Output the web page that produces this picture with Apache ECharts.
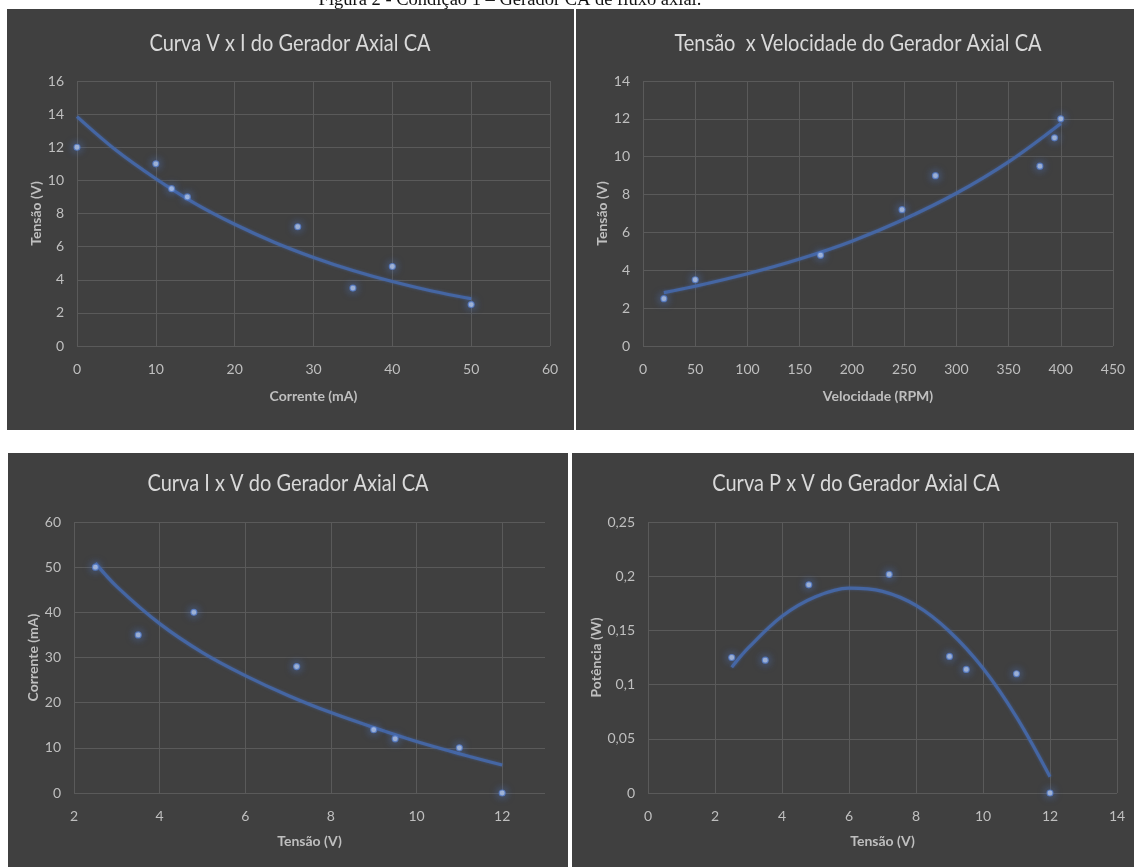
<!DOCTYPE html>
<html>
<head>
<meta charset="utf-8">
<script src="https://cdn.jsdelivr.net/npm/echarts@6/dist/echarts.min.js"></script>
<style>
  html, body { margin: 0; padding: 0; background: #ffffff; }
  #wrap { position: relative; width: 1134px; height: 867px; overflow: hidden; }
  .panel { position: absolute; background: #404040; }
  #chart { position: absolute; left: 0; top: 0; width: 1134px; height: 867px; }
</style>
</head>
<body>
<div id="wrap">
  <div class="panel" style="left:7px;top:9px;width:567px;height:421px"></div>
  <div class="panel" style="left:576px;top:9px;width:558px;height:421px"></div>
  <div class="panel" style="left:8px;top:453px;width:560px;height:414px"></div>
  <div class="panel" style="left:572px;top:453px;width:562px;height:414px"></div>
  <div id="chart"></div>
</div>
<script>
// ---- Measured data ----
// Curva V x I: corrente (mA) -> tensão (V)
const correnteVI = [0, 10, 12, 14, 28, 35, 40, 50];
const tensaoVI   = [12, 11, 9.5, 9, 7.2, 3.5, 4.8, 2.5];
// Tensão x Velocidade: velocidade (RPM) -> tensão (V)
const velocidade = [20, 50, 170, 248, 280, 380, 394, 400];
const tensaoVel  = [2.5, 3.5, 4.8, 7.2, 9, 9.5, 11, 12];
// Curva I x V: tensão (V) -> corrente (mA)
const tensaoIV   = [2.5, 3.5, 4.8, 7.2, 9, 9.5, 11, 12];
const correnteIV = [50, 35, 40, 28, 14, 12, 10, 0];
// Curva P x V: tensão (V) -> potência (W)
const tensaoPV   = [2.5, 3.5, 4.8, 7.2, 9, 9.5, 11, 12];
const potencia   = [0.125, 0.1225, 0.192, 0.2016, 0.126, 0.114, 0.11, 0];

// ---- Trend lines (points along each fitted curve) ----
const trendVI_x  = [0, 5, 10, 15, 20, 25, 30, 35, 40, 45, 50];
const trendVI_y  = [13.85, 11.8, 10.1, 8.6, 7.35, 6.27, 5.35, 4.56, 3.89, 3.32, 2.85];
const trendVel_x = [20, 50, 100, 150, 200, 250, 300, 350, 400];
const trendVel_y = [2.82, 3.16, 3.82, 4.6, 5.54, 6.7, 8.07, 9.73, 11.76];
const trendIV_x  = [2.5, 3, 4, 5, 6, 7, 8, 9, 10, 11, 12];
const trendIV_y  = [50.9, 45.7, 37.5, 31.1, 26.0, 21.6, 17.8, 14.5, 11.4, 8.7, 6.2];
const trendPV_x  = [2.5, 3, 4, 5, 6, 7, 8, 9, 10, 11, 12];
const trendPV_y  = [0.116, 0.134, 0.163, 0.181, 0.189, 0.186, 0.173, 0.149, 0.115, 0.070, 0.015];

// ---- Texts ----
const caption = 'Figura 2 - Condição 1 – Gerador CA de fluxo axial.';
const titles = [
  'Curva V x I do Gerador Axial CA',
  'Tensão  x Velocidade do Gerador Axial CA',
  'Curva I x V do Gerador Axial CA',
  'Curva P x V do Gerador Axial CA'
];
const xNames = ['Corrente (mA)', 'Velocidade (RPM)', 'Tensão (V)', 'Tensão (V)'];
const yNames = ['Tensão (V)', 'Tensão (V)', 'Corrente (mA)', 'Potência (W)'];

// ---- Axis ranges [min, max, interval] ----
const xRanges = [[0, 60, 10], [0, 450, 50], [2, 13, 2], [0, 14, 2]];
const yRanges = [[0, 16, 2], [0, 14, 2], [0, 60, 10], [0, 0.25, 0.05]];

const zip = (xs, ys) => xs.map((x, i) => [x, ys[i]]);

const FONT = 'Lato';
const LABEL = '#bfbfbf';
const GRIDLINE = '#5a5a5a';

const grids = [
  { left: 77,  top: 81,  width: 473, height: 265 },
  { left: 643, top: 81,  width: 470, height: 265 },
  { left: 74,  top: 522, width: 471, height: 271 },
  { left: 648, top: 522, width: 469, height: 271 }
];
const xNameGap = [43, 43, 41, 41];
const yNameGap = [32, 32, 31, 41];
const titlePos = [[290, 44], [858, 44], [288, 484], [856, 484]];

function decimalComma(v) {
  return String(+v.toFixed(2)).replace('.', ',');
}

const xAxes = xRanges.map((r, i) => ({
  type: 'value', gridIndex: i, min: r[0], max: r[1], interval: r[2],
  name: xNames[i], nameLocation: 'middle', nameGap: xNameGap[i],
  nameTextStyle: { color: LABEL, fontFamily: FONT, fontSize: 14, fontWeight: 'bold' },
  axisLine: { show: false }, axisTick: { show: false },
  axisLabel: {
    color: LABEL, fontFamily: FONT, fontSize: 14, margin: 16,
    formatter: v => (i === 2 && v === 13) ? '' : String(v)
  },
  splitLine: {
    show: true,
    lineStyle: {
      width: 1,
      // the last line of the I x V panel (at 13) stays hidden
      color: i === 2 ? [GRIDLINE, GRIDLINE, GRIDLINE, GRIDLINE, GRIDLINE, GRIDLINE, 'rgba(0,0,0,0)'] : GRIDLINE
    }
  }
}));

const yAxes = yRanges.map((r, i) => ({
  type: 'value', gridIndex: i, min: r[0], max: r[1], interval: r[2],
  name: yNames[i], nameLocation: 'middle', nameGap: yNameGap[i], nameRotate: 90,
  nameTextStyle: { color: LABEL, fontFamily: FONT, fontSize: 14, fontWeight: 'bold' },
  axisLine: { show: false }, axisTick: { show: false },
  axisLabel: {
    color: LABEL, fontFamily: FONT, fontSize: 14, margin: 13,
    formatter: i === 3 ? decimalComma : (v => String(v))
  },
  splitLine: { show: true, lineStyle: { color: GRIDLINE, width: 1 } }
}));

const pointSets = [
  zip(correnteVI, tensaoVI),
  zip(velocidade, tensaoVel),
  zip(tensaoIV, correnteIV),
  zip(tensaoPV, potencia)
];
const trendSets = [
  zip(trendVI_x, trendVI_y),
  zip(trendVel_x, trendVel_y),
  zip(trendIV_x, trendIV_y),
  zip(trendPV_x, trendPV_y)
];

const series = [];
for (let i = 0; i < 4; i++) {
  series.push({
    type: 'line', xAxisIndex: i, yAxisIndex: i, data: trendSets[i],
    smooth: 0.35, showSymbol: false, silent: true, z: 2,
    lineStyle: { color: '#4566a3', width: 3.2, shadowBlur: 3, shadowColor: 'rgba(72,104,166,0.6)' }
  });
  series.push({
    type: 'scatter', xAxisIndex: i, yAxisIndex: i, data: pointSets[i],
    symbol: 'circle', symbolSize: 6, z: 3,
    itemStyle: {
      color: '#c2d4f6', borderColor: '#5279c4', borderWidth: 1.2,
      shadowBlur: 9, shadowColor: 'rgba(80,120,200,1)'
    }
  });
}

const graphic = [
  {
    type: 'text', x: 510, y: 10,
    style: { text: caption, font: '18.5px "Liberation Serif"', fill: '#111', align: 'center', verticalAlign: 'bottom' }
  }
].concat(titles.map((t, i) => ({
  type: 'text', x: titlePos[i][0], y: titlePos[i][1], scaleX: 0.87,
  style: { text: t, font: '23px ' + FONT, fill: '#d9d9d9', align: 'center', verticalAlign: 'middle' }
})));

const chart = echarts.init(document.getElementById('chart'), null, { renderer: 'canvas' });
chart.setOption({
  backgroundColor: 'transparent',
  animation: false,
  grid: grids,
  xAxis: xAxes,
  yAxis: yAxes,
  series: series,
  graphic: graphic
});
</script>
</body>
</html>
